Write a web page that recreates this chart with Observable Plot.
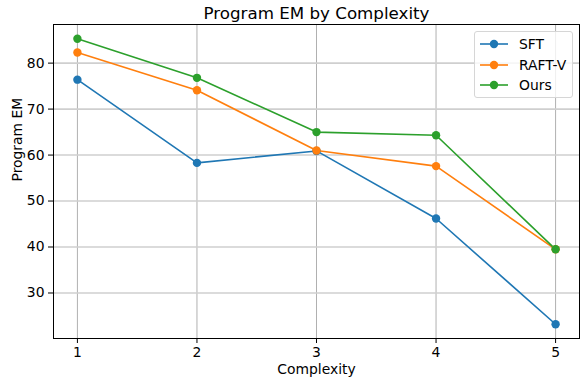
<!DOCTYPE html>
<html>
<head>
<meta charset="utf-8">
<script src="https://cdn.jsdelivr.net/npm/d3@7"></script>
<script src="https://cdn.jsdelivr.net/npm/@observablehq/plot@0.6"></script>
<style>
  html, body { margin: 0; padding: 0; background: #fff; }
  #wrap { position: relative; width: 582px; height: 378px; font-family: "DejaVu Sans", sans-serif; }
  #legend { position: absolute; left: 474px; top: 31px; width: 97px; height: 65px;
    border: 1px solid #d6d6d6; border-radius: 3px; background: rgba(255,255,255,0.8); box-sizing: content-box; }
  .row { position: absolute; left: 0; height: 20px; display: flex; align-items: center; }
  .row svg { margin-left: 4px; }
  .row span { margin-left: 10px; font-size: 13.9px; color: #000; }
</style>
</head>
<body>
<div id="wrap"></div>
<script>
const complexity = [1, 2, 3, 4, 5];
const seriesNames = ["SFT", "RAFT-V", "Ours"];
const sft   = [76.4, 58.3, 60.9, 46.2, 23.2];
const raftv = [82.3, 74.1, 61.0, 57.6, 39.5];
const ours  = [85.3, 76.8, 65.0, 64.3, 39.5];
const colors = ["#1f77b4", "#ff7f0e", "#2ca02c"];
const yTicks = [30, 40, 50, 60, 70, 80];

const seriesValues = [sft, raftv, ours];
const data = [];
seriesNames.forEach((name, i) => {
  complexity.forEach((c, j) => data.push({series: name, x: c, y: seriesValues[i][j]}));
});

const font = "DejaVu Sans, sans-serif";
const chart = Plot.plot({
  width: 582,
  height: 378,
  marginLeft: 53,
  marginRight: 3,
  marginTop: 24,
  marginBottom: 40,
  style: {fontFamily: font, fontSize: "13.9px", background: "#fff", color: "#000"},
  x: {domain: [0.8, 5.2], ticks: complexity, label: null},
  y: {domain: [20.1, 88.4], ticks: yTicks, label: null},
  color: {domain: seriesNames, range: colors},
  marks: [
    Plot.gridX(complexity, {stroke: "#b0b0b0", strokeOpacity: 1, strokeWidth: 1}),
    Plot.gridY(yTicks, {stroke: "#cfcfcf", strokeOpacity: 1, strokeWidth: 1.6}),
    Plot.line(data, {x: "x", y: "y", z: "series", stroke: "series", strokeWidth: 1.6}),
    Plot.dot(data, {x: "x", y: "y", fill: "series", r: 4.2, stroke: "none"}),
    Plot.frame({stroke: "#000", strokeWidth: 1}),
    Plot.axisX(complexity, {tickSize: 5, tickPadding: 4, fontSize: 13.9, label: null, tickFormat: d3.format("d")}),
    Plot.axisY(yTicks, {tickSize: 5, tickPadding: 4, fontSize: 13.9, label: null, tickFormat: d3.format("d")}),
    Plot.text(["Program EM by Complexity"], {frameAnchor: "top", lineAnchor: "middle", dy: -11, fontSize: 16.7, fill: "#000"}),
    Plot.text(["Complexity"], {frameAnchor: "bottom", lineAnchor: "middle", dy: 31, fontSize: 13.9, fill: "#000"}),
    Plot.text(["Program EM"], {frameAnchor: "left", dx: -36, rotate: -90, fontSize: 13.9, fill: "#000"})
  ]
});
const wrap = document.getElementById("wrap");
wrap.appendChild(chart);

const legend = document.createElement("div");
legend.id = "legend";
seriesNames.forEach((name, i) => {
  const row = document.createElement("div");
  row.className = "row";
  row.style.top = (2 + i * 20.7) + "px";
  row.innerHTML = `<svg width="30" height="12"><line x1="1" y1="6" x2="29" y2="6" stroke="${colors[i]}" stroke-width="1.6"/><circle cx="15" cy="6" r="4.2" fill="${colors[i]}"/></svg><span>${name}</span>`;
  legend.appendChild(row);
});
wrap.appendChild(legend);
</script>
</body>
</html>
